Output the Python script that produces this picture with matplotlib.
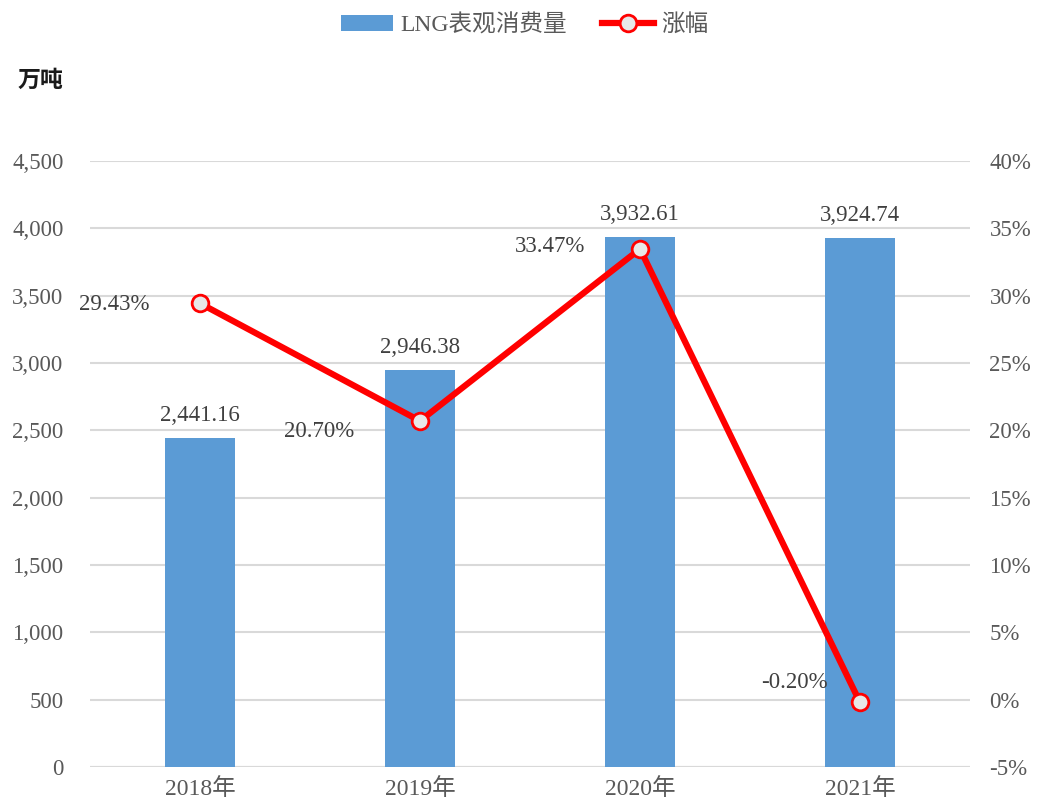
import matplotlib.pyplot as plt
import numpy as np

years = ['2018年', '2019年', '2020年', '2021年']
consumption = [2441.16, 2946.38, 3932.61, 3924.74]
growth = [29.43, 20.70, 33.47, -0.20]

fonts = ['Liberation Serif', 'Noto Sans CJK SC']
plt.rcParams['font.family'] = fonts

bar_color = '#5B9BD5'
line_color = '#FF0000'
text_color = '#404040'
tick_color = '#595959'

fig = plt.figure(figsize=(10.38, 8.07), dpi=100)
ax = fig.add_axes([90 / 1038, 1 - 767 / 807, 880 / 1038, (767 - 161) / 807])
ax2 = ax.twinx()

x = np.arange(len(years))
bars = ax.bar(x, consumption, 0.32, color=bar_color, zorder=2, label='LNG表观消费量')

ax.set_xlim(-0.5, 3.5)
ax.set_ylim(0, 4500)
ax.set_yticks(np.arange(0, 4501, 500))
ax.set_yticklabels([f'{v:,}' for v in range(0, 4501, 500)])
ax.set_xticks(x)
ax.set_xticklabels(years)
ax.grid(axis='y', color='#D9D9D9', linewidth=1.5, zorder=0)
ax.set_axisbelow(True)

for b, v in zip(bars, consumption):
    ax.text(b.get_x() + b.get_width() / 2, v + 90, f'{v:,.2f}', ha='center', va='bottom',
            fontsize=16.5, color=text_color)

ax2.plot(x, growth, color=line_color, linewidth=4.5, marker='o', markersize=12,
         markerfacecolor='#E8E8E8', markeredgecolor=line_color, markeredgewidth=2,
         zorder=3, label='涨幅')
ax2.set_ylim(-5, 40)
ax2.set_yticks(np.arange(-5, 41, 5))
ax2.set_yticklabels([f'{v}%' for v in range(-5, 41, 5)])

offsets = [(-0.39, -0.05), (-0.46, -0.8), (-0.41, 0.2), (-0.3, 1.5)]
for xi, g, (dx, dy) in zip(x, growth, offsets):
    ax2.text(xi + dx, g + dy, f'{g:.2f}%', ha='center', va='center',
             fontsize=16.5, color=text_color)

for a in (ax, ax2):
    for s in a.spines.values():
        s.set_visible(False)
    a.tick_params(length=0, labelsize=16.5, colors=tick_color)
ax.tick_params(axis='y', pad=19)
ax2.tick_params(axis='y', pad=14)
ax.tick_params(axis='x', pad=8, labelsize=17)
ax.axhline(0, color='#D9D9D9', linewidth=1.5, zorder=1)

fig.text(40 / 1038, 1 - 80 / 807, '万吨', ha='center', va='center', fontsize=16.5,
         fontweight='bold', family=['Noto Sans CJK SC'], color='#1a1a1a')

h1, l1 = ax.get_legend_handles_labels()
h2, l2 = ax2.get_legend_handles_labels()
fig.legend(h1 + h2, l1 + l2, loc='center', bbox_to_anchor=(525 / 1038, 1 - 25 / 807),
           ncol=2, frameon=False, fontsize=17, labelcolor=tick_color,
           handlelength=2.2, columnspacing=1.5, handletextpad=0.3)

fig.savefig('out.png', dpi=100)
